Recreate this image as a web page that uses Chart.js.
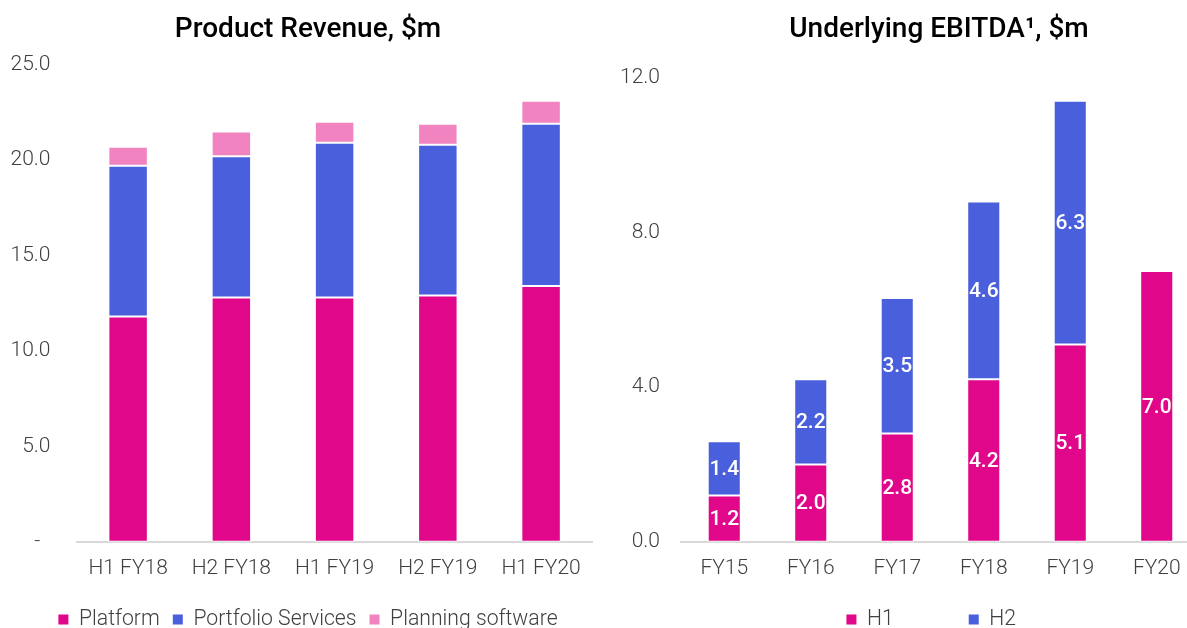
<!DOCTYPE html>
<html>
<head>
<meta charset="utf-8">
<script src="https://cdn.jsdelivr.net/npm/chart.js@4"></script>
<style>
  html, body { margin: 0; padding: 0; background: #fff; }
  #page { position: relative; width: 1187px; height: 628px; overflow: hidden; }
  .box { position: absolute; top: 0; }
  #revenueBox { left: 0; }
  #ebitdaBox { left: 600px; }
</style>
</head>
<body>
<div id="page">
  <div class="box" id="revenueBox"><canvas id="revenueChart" width="616" height="640"></canvas></div>
  <div class="box" id="ebitdaBox"><canvas id="ebitdaChart" width="678" height="640"></canvas></div>
</div>
<script>
// left chart: product revenue by half year
const revenuePeriods = ['H1 FY18', 'H2 FY18', 'H1 FY19', 'H2 FY19', 'H1 FY20'];
const platformRevenue = [11.8, 12.8, 12.8, 12.9, 13.4];
const portfolioRevenue = [7.9, 7.4, 8.1, 7.9, 8.5];
const planningRevenue = [1.0, 1.3, 1.1, 1.1, 1.2];
const revenueTicks = [0, 5, 10, 15, 20, 25];

// right chart: underlying EBITDA by year
const ebitdaYears = ['FY15', 'FY16', 'FY17', 'FY18', 'FY19', 'FY20'];
const ebitdaH1 = [1.2, 2.0, 2.8, 4.2, 5.1, 7.0];
const ebitdaH2 = [1.4, 2.2, 3.5, 4.6, 6.3, null];
const ebitdaTicks = [0, 4, 8, 12];

const MAGENTA = '#e0078a';
const BLUE = '#4a5fdb';
const PINK = '#f183c0';
const TEXT = '#404040';
const FONT = 'Roboto, "Noto Sans", sans-serif';

Chart.defaults.font.family = FONT;
Chart.defaults.color = TEXT;

// white numbers in the middle of each bar segment
const segmentLabels = {
  id: 'segmentLabels',
  afterDatasetsDraw(chart) {
    const { ctx } = chart;
    ctx.save();
    ctx.fillStyle = '#fff';
    ctx.font = `500 21px ${FONT}`;
    ctx.textAlign = 'center';
    ctx.textBaseline = 'middle';
    chart.data.datasets.forEach((ds, i) => {
      const meta = chart.getDatasetMeta(i);
      meta.data.forEach((bar, j) => {
        const v = ds.data[j];
        if (v == null) return;
        ctx.fillText(v.toFixed(1), bar.x, (bar.y + bar.base) / 2 + 1);
      });
    });
    ctx.restore();
  },
};

function barSet(label, data, color) {
  return {
    label,
    data,
    backgroundColor: color,
    borderColor: '#fff',
    borderWidth: 1,
    borderSkipped: false,
    barPercentage: 0.78,
    categoryPercentage: 0.49,
  };
}

function baseOptions(opts) {
  return {
    responsive: false,
    animation: false,
    layout: { padding: 0 },
    plugins: {
      title: {
        display: true,
        text: opts.title,
        color: '#000',
        font: { size: 28, weight: '500', family: FONT },
        padding: { top: 13, bottom: opts.titleBottom },
      },
      legend: {
        position: 'bottom',
        labels: {
          boxWidth: 10,
          boxHeight: 10,
          color: TEXT,
          padding: 13,
          font: { size: 21.2, weight: '300', family: FONT },
          generateLabels(chart) {
            const items = Chart.defaults.plugins.legend.labels.generateLabels(chart);
            items.forEach((item) => {
              item.text += opts.labelTail[item.datasetIndex] || '';
              item.lineWidth = 0;
            });
            return items;
          },
        },
      },
      tooltip: { enabled: false },
    },
    scales: {
      x: {
        stacked: true,
        grid: { display: false, drawTicks: false },
        border: { display: true, color: '#d9d9d9', width: 2 },
        ticks: { padding: 14, color: TEXT, font: { size: 21, weight: '300' } },
        afterFit(scale) { scale.height = 54; },
      },
      y: {
        stacked: true,
        min: opts.yTicks[0],
        max: opts.yTicks[opts.yTicks.length - 1],
        grid: { display: false, drawTicks: false },
        border: { display: false },
        afterBuildTicks(scale) { scale.ticks = opts.yTicks.map((value) => ({ value })); },
        afterFit(scale) { scale.width = opts.yWidth; },
        ticks: {
          padding: opts.tickGap,
          color: TEXT,
          font: { size: 21, weight: '300' },
          callback: opts.tickText,
        },
      },
      // empty right axis, only used to keep the plot clear of the right edge
      spacer: {
        position: 'right',
        grid: { display: false, drawTicks: false },
        border: { display: false },
        ticks: { display: false },
        afterFit(scale) { scale.width = opts.rightGap; },
      },
    },
  };
}

new Chart(document.getElementById('revenueChart'), {
  type: 'bar',
  data: {
    labels: revenuePeriods,
    datasets: [
      barSet('Platform', platformRevenue, MAGENTA),
      barSet('Portfolio Services', portfolioRevenue, BLUE),
      barSet('Planning software', planningRevenue, PINK),
    ],
  },
  options: baseOptions({
    title: 'Product Revenue, $m',
    titleBottom: 18,
    yWidth: 76.5,
    rightGap: 23.3,
    tickGap: 26,
    labelTail: [],
    yTicks: revenueTicks,
    // accounting style zero: a dash set in from the right
    tickText: (v) => (v === 0 ? '-  ' : v.toFixed(1)),
  }),
});

new Chart(document.getElementById('ebitdaChart'), {
  type: 'bar',
  data: {
    labels: ebitdaYears,
    datasets: [
      barSet('H1', ebitdaH1, MAGENTA),
      barSet('H2', ebitdaH2, BLUE),
    ],
  },
  options: baseOptions({
    title: 'Underlying EBITDA\u00b9, $m',
    titleBottom: 31,
    yWidth: 81,
    rightGap: 78,
    tickGap: 21,
    labelTail: ['            ', '   '],
    yTicks: ebitdaTicks,
    tickText: (v) => v.toFixed(1),
  }),
  plugins: [segmentLabels],
});
</script>
</body>
</html>
